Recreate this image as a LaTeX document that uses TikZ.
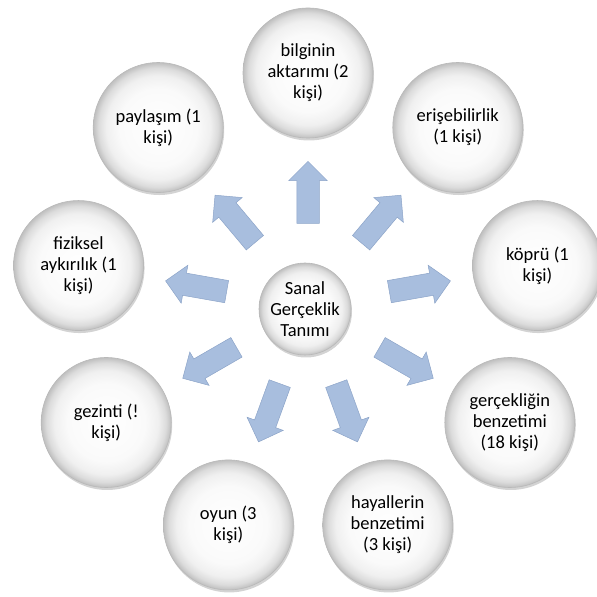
\documentclass[tikz,border=0pt]{standalone}
\usepackage{fontspec}
\setmainfont{Carlito}
\usepackage{tikz}
\usetikzlibrary{shapes.arrows,shadows}

\definecolor{arrowblue}{RGB}{168,190,222}
\definecolor{arrowedge}{RGB}{140,164,200}
\pgfdeclareradialshading{bubbleshade}{\pgfpoint{0bp}{0bp}}{color(0bp)=(white); color(15bp)=(gray!4); color(20bp)=(gray!12); color(23bp)=(gray!28); color(25bp)=(gray!50); color(50bp)=(gray!50)}

\tikzset{
	bubble/.style={circle, draw=gray!55, line width=0.6pt, shade, shading=bubbleshade,
		minimum size=130pt, inner sep=0pt, align=center, font=\fontsize{18.5}{21}\selectfont,
		drop shadow={shadow xshift=1pt, shadow yshift=-2.5pt, opacity=0.35, fill=gray}},
	hubbubble/.style={bubble, minimum size=92pt},
	blockarrow/.style={single arrow, draw=arrowedge, line width=0.5pt, fill=arrowblue,
		minimum height=62pt, inner xsep=0pt, inner ysep=11pt, single arrow head extend=8pt}
}

\begin{document}
\begin{tikzpicture}[x=1pt,y=1pt]
	\useasboundingbox (0,0) rectangle (597,597);
	\coordinate (mid) at (308,291);
	% arrows
	\node[blockarrow, rotate=90] (a1) at ([shift={(90:108)}]mid) {};
	\node[blockarrow, rotate=50] (a2) at ([shift={(50:108)}]mid) {};
	\node[blockarrow, rotate=10] (a3) at ([shift={(10:108)}]mid) {};
	\node[blockarrow, rotate=-30] (a4) at ([shift={(-30:108)}]mid) {};
	\node[blockarrow, rotate=-70] (a5) at ([shift={(-70:108)}]mid) {};
	\node[blockarrow, rotate=-110] (a6) at ([shift={(-110:108)}]mid) {};
	\node[blockarrow, rotate=-150] (a7) at ([shift={(-150:108)}]mid) {};
	\node[blockarrow, rotate=170] (a8) at ([shift={(170:108)}]mid) {};
	\node[blockarrow, rotate=130] (a9) at ([shift={(130:108)}]mid) {};
	% circles
	\node[hubbubble] (hub) at (305,288) {Sanal\\Gerçeklik\\Tanımı};
	\node[bubble] (bilgi) at ([shift={(90:233)}]mid) {bilginin\\aktarımı (2\\kişi)};
	\node[bubble] (erisim) at ([shift={(50:233)}]mid) {erişebilirlik\\(1 kişi)};
	\node[bubble] (kopru) at ([shift={(10:233)}]mid) {köprü (1\\kişi)};
	\node[bubble] (gercek) at ([shift={(-30:233)}]mid) {gerçekliğin\\benzetimi\\(18 kişi)};
	\node[bubble] (hayal) at ([shift={(-70:233)}]mid) {hayallerin\\benzetimi\\(3 kişi)};
	\node[bubble] (oyun) at ([shift={(-110:233)}]mid) {oyun (3\\kişi)};
	\node[bubble] (gezinti) at ([shift={(-150:233)}]mid) {gezinti (!\\kişi)};
	\node[bubble] (fiziksel) at ([shift={(170:233)}]mid) {fiziksel\\aykırılık (1\\kişi)};
	\node[bubble] (paylasim) at ([shift={(130:233)}]mid) {paylaşım (1\\kişi)};
\end{tikzpicture}
\end{document}
